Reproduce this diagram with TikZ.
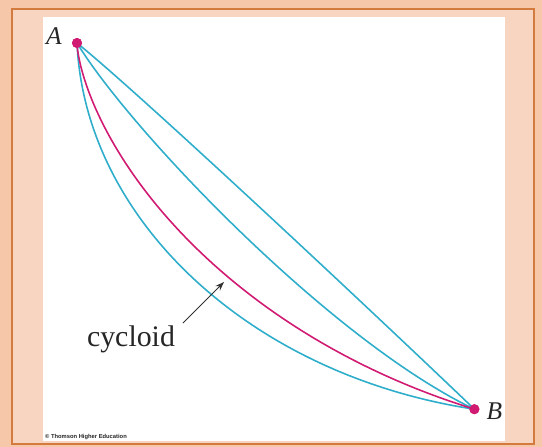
\documentclass[tikz,border=0pt]{standalone}
\usepackage{fontspec}
\setmainfont{Liberation Serif}
\newfontfamily\smallsans{Liberation Sans}
\usetikzlibrary{arrows.meta}

\definecolor{peach}{HTML}{F6C8A9}
\definecolor{band}{HTML}{F8D5C1}
\definecolor{framec}{HTML}{D37A3E}
\definecolor{pathblue}{HTML}{2FAECB}
\definecolor{cycmag}{HTML}{D11A72}

\begin{document}
\begin{tikzpicture}[x=0.02cm, y=-0.02cm, >={Stealth[length=0.18cm, width=0.13cm]},
    every node/.style={inner sep=0pt, text=black!85},
    path/.style={draw=pathblue, line width=0.9pt},
    cyc/.style={draw=cycmag, line width=0.9pt},
    dot/.style={circle, fill=cycmag, minimum size=0.2cm}]
  % backdrop and frame
  \fill[peach] (0,0) rectangle (542,447);
  \fill[band] (12,9) rectangle (534,444);
  \fill[white] (43,17) rectangle (505,441);
  \draw[framec, line width=0.9pt] (12,9) rectangle (534,444);
  \useasboundingbox (0,0) rectangle (542,447);

  \node[dot] (A) at (77,43) {};
  \node[dot] (B) at (474.4,409.2) {};

  % the three other paths
  \draw[path] (A.center) .. controls (145,98) and (395,333) .. (B.center);
  \draw[path] (A.center) .. controls (130,130) and (330,340) .. (B.center);
  \draw[path] (A.center) .. controls (85,220) and (250,375) .. (B.center);
  % the cycloid itself
  \draw[cyc] plot[domain=0:2.545, samples=80, variable=\t]
    ({77+200.4*(\t - sin(\t r))}, {43+200.4*(1-cos(\t r))});
  \node[dot] at (A) {};
  \node[dot] at (B) {};

  \node (labA) at (54,36.5) {\fontsize{14.5}{16}\selectfont\itshape A};
  \node (labB) at (494.5,411) {\fontsize{14.5}{16}\selectfont\itshape B};

  \node[anchor=base] (lbl) at (131,346) {\fontsize{17}{19}\selectfont cycloid};
  \coordinate (tail) at (183,323);
  \coordinate (tip) at (224,282);
  \draw[->, black!80, line width=0.55pt] (tail) -- (tip);

  \node (copy) at (86,437) {\fontsize{3.3}{4}\selectfont\smallsans\bfseries \textcopyright{} Thomson Higher Education};
\end{tikzpicture}
\end{document}
